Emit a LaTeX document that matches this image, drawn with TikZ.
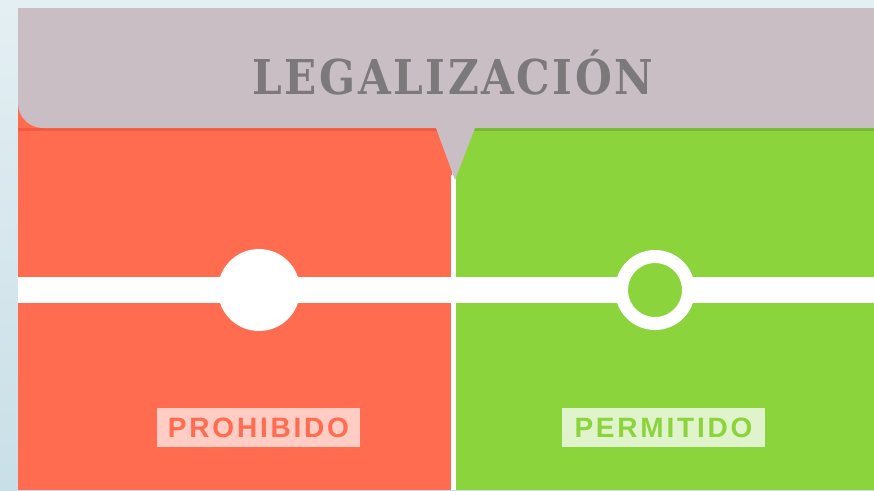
\documentclass[tikz,border=0pt]{standalone}
\usepackage{fontspec}
\newfontfamily\titlefont[LetterSpace=6]{DejaVu Serif}
\newfontfamily\tagfont[LetterSpace=10]{Liberation Sans}
\definecolor{skytop}{HTML}{E4EFF3}
\definecolor{skybot}{HTML}{C9DFE7}
\definecolor{banner}{HTML}{C8BEC4}
\definecolor{titlegray}{HTML}{7C797B}
\definecolor{redside}{HTML}{FF6C50}
\definecolor{redshade}{HTML}{F55A40}
\definecolor{redtag}{HTML}{FFCDC4}
\definecolor{greenside}{HTML}{8CD43C}
\definecolor{greenshade}{HTML}{76B82E}
\definecolor{greentag}{HTML}{E0F4CC}
\tikzset{
    tagbox/.style={minimum width=203pt, minimum height=39pt, inner sep=0pt,
        font=\tagfont\bfseries\fontsize{28}{28}\selectfont},
    dot/.style={circle, inner sep=0pt}
}
\begin{document}
\begin{tikzpicture}[x=1pt, y=-1pt]
    \useasboundingbox (0, 0) rectangle (874, 490);
    \shade[top color=skytop, bottom color=skybot] (0, 0) rectangle (874, 490);

    % the two sides
    \fill[redside] (18, 100) rectangle (452, 490);
    \fill[greenside] (455, 100) rectangle (874, 490);
    \fill[redshade] (18, 128) rectangle (452, 131);
    \fill[greenshade] (455, 128) rectangle (874, 131);
    \fill[white] (451, 175) rectangle (456, 490);

    % banner with its pointer
    \fill[banner] (18, 8) -- (874, 8) -- (874, 128) -- (475, 128) -- (455, 180)
        -- (436, 128) -- (43, 128) arc (90:180:25) -- cycle;
    \node[anchor=base, inner sep=0pt, font=\titlefont\bfseries\fontsize{48}{48}\selectfont, text=titlegray] (title) at (453, 94) {\scalebox{0.88}[1]{LEGALIZACIÓN}};

    % the line and its two points
    \fill[white] (18, 277) rectangle (874, 303);
    \node[dot, fill=white, minimum size=82pt] (closed) at (259, 290) {};
    \node[dot, fill=greenside, draw=white, line width=13pt, minimum size=67pt] (open) at (655, 290) {};

    \node[tagbox, fill=redtag, text=redside] (banned) at (258.5, 427.5) {PROHIBIDO};
    \node[tagbox, fill=greentag, text=greenside] (allowed) at (663.5, 427.5) {PERMITIDO};
\end{tikzpicture}
\end{document}
